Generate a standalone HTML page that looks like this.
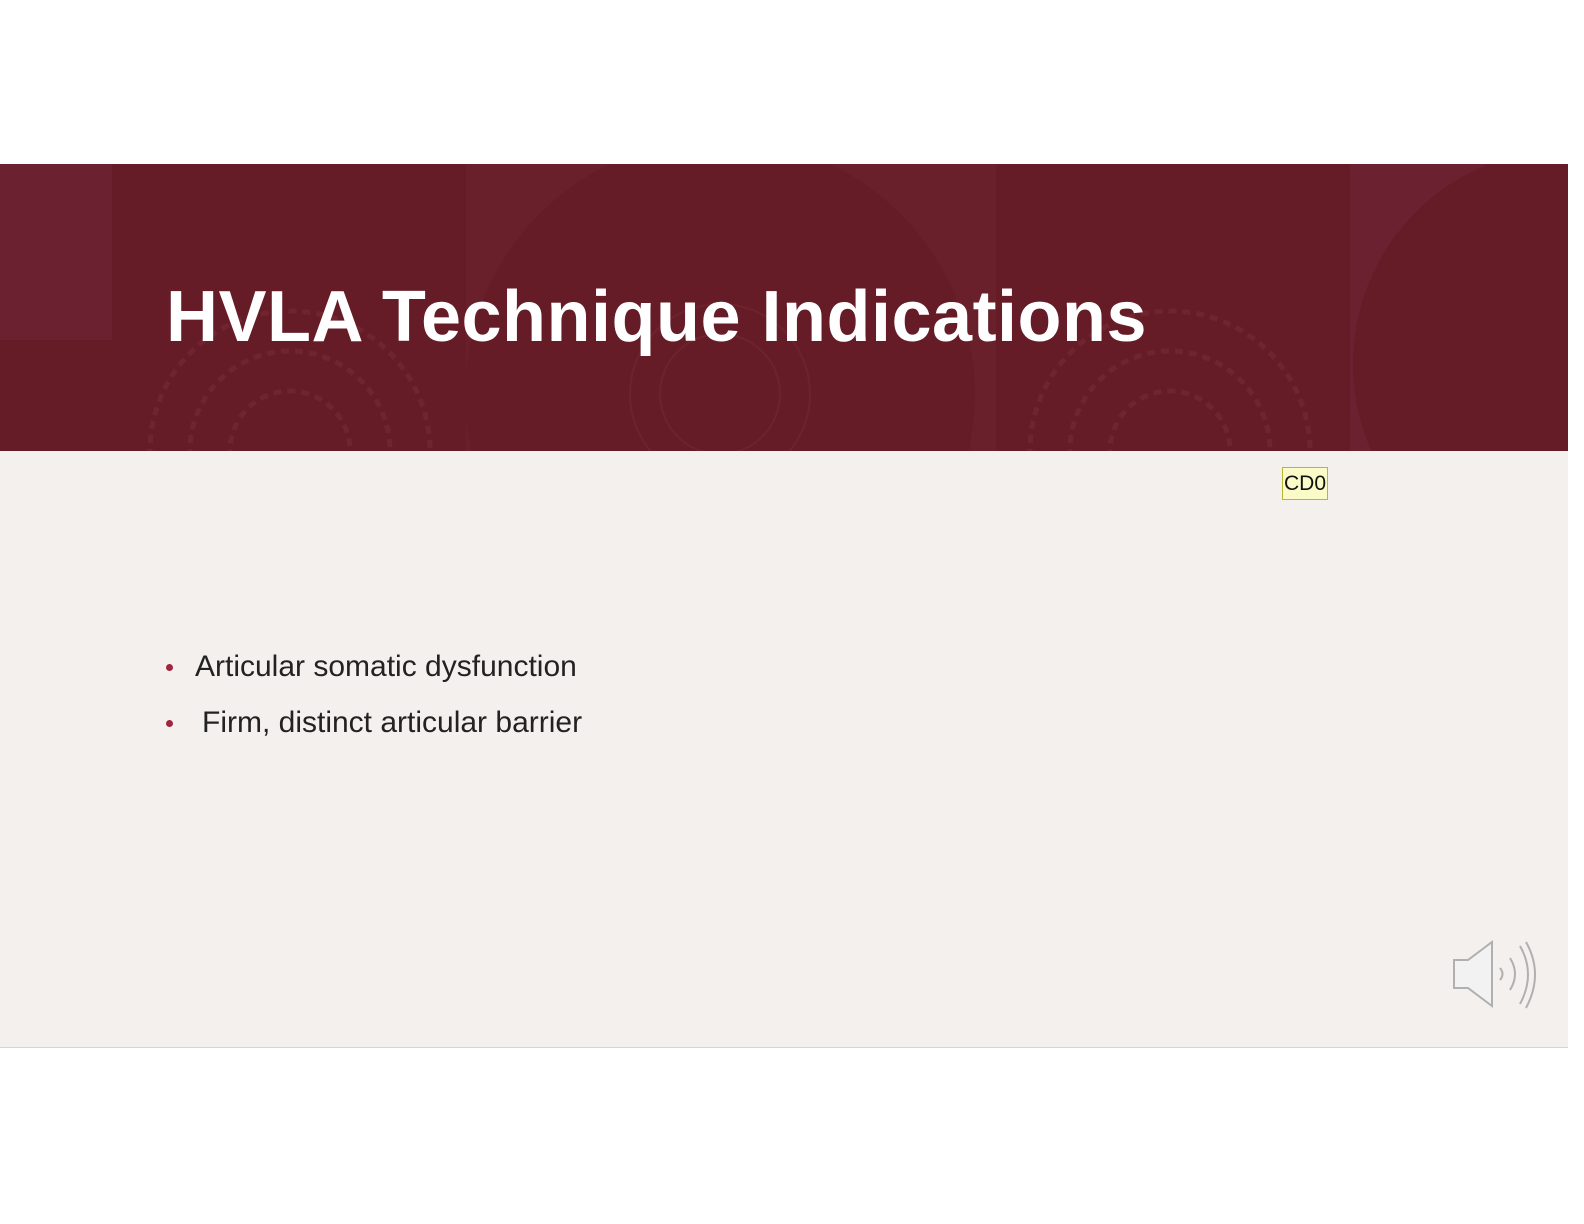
<!DOCTYPE html>
<html><head><meta charset="utf-8"><style>
html,body{margin:0;padding:0;width:1584px;height:1224px;background:#fff;overflow:hidden;font-family:"Liberation Sans",sans-serif}
#slide{position:absolute;left:0;top:164px;width:1568px;height:883px;background:#f4f0ed;border-bottom:1px solid #d8d4d2}
#band{position:absolute;left:0;top:0;width:1568px;height:287px;background:#661c27;overflow:hidden}
#title{position:absolute;left:166px;top:112px;font-size:72px;font-weight:bold;color:#fff;letter-spacing:0.5px;white-space:nowrap}
.bullet{position:absolute;left:195px;font-size:30px;color:#222;white-space:nowrap}
.dot{position:absolute;left:166px;width:7px;height:7px;border-radius:50%;background:#a02540}
#cd0{position:absolute;left:1282px;top:303px;width:44px;height:31px;background:#fbfbc8;border:1px solid #b8b830;font-size:21px;line-height:31px;text-align:center;color:#111}
#spk{position:absolute;left:1450px;top:774px}
</style></head><body>
<div id="slide">
 <div id="band">
  <svg width="1568" height="287" style="position:absolute;left:0;top:0">
   <rect x="0" y="0" width="112" height="176" fill="#6b2130"/>
   <rect x="466" y="0" width="530" height="287" fill="#69202b"/>
   <circle cx="720" cy="230" r="255" fill="#661c27"/>
   <rect x="1350" y="0" width="218" height="287" fill="#6b2130"/>
   <circle cx="1568" cy="200" r="215" fill="#661c27"/>
   <g fill="none" stroke="#70242f" stroke-width="5" stroke-dasharray="8 6">
    <circle cx="290" cy="287" r="60"/><circle cx="290" cy="287" r="100"/><circle cx="290" cy="287" r="140"/>
    <circle cx="1170" cy="287" r="60"/><circle cx="1170" cy="287" r="100"/><circle cx="1170" cy="287" r="140"/>
   </g>
   <g fill="none" stroke="#6e222d" stroke-width="2">
    <circle cx="720" cy="230" r="60"/><circle cx="720" cy="230" r="90"/>
   </g>
  </svg>
  <div id="title">HVLA Technique Indications</div>
 </div>
 <div id="cd0">CD0</div>
 <div class="dot" style="top:500px"></div>
 <div class="bullet" style="top:486px">Articular somatic dysfunction</div>
 <div class="dot" style="top:556px"></div>
 <div class="bullet" style="top:542px;left:202px">Firm, distinct articular barrier</div>
 <svg id="spk" width="95" height="75">
  <path d="M4 22 H18 L42 4 V68 L18 50 H4 Z" fill="#f2f2f2" stroke="#b0b0b0" stroke-width="2"/>
  <path d="M50 30 Q55 36 50 42" fill="none" stroke="#b0b0b0" stroke-width="2"/>
  <path d="M60 20 Q70 36 60 52" fill="none" stroke="#b0b0b0" stroke-width="2"/>
  <path d="M70 8 Q86 36 70 66" fill="none" stroke="#b0b0b0" stroke-width="2"/>
  <path d="M76 4 Q94 36 76 70" fill="none" stroke="#b0b0b0" stroke-width="2"/>
 </svg>
</div>
</body></html>
